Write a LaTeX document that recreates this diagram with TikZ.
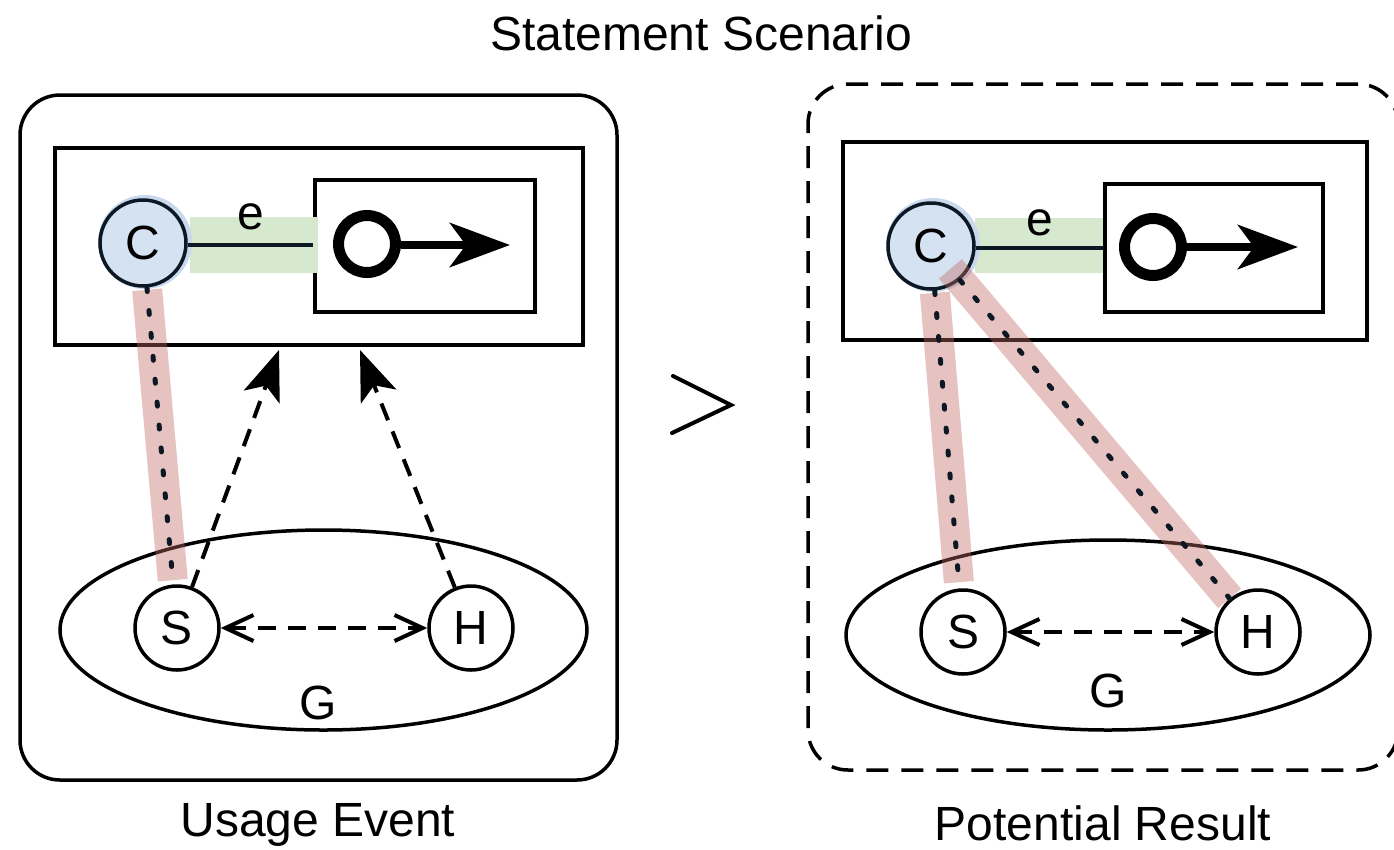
\documentclass[tikz,border=0pt]{standalone}
\usepackage{fontspec}
\setmainfont{Liberation Sans}
\usetikzlibrary{arrows.meta,shapes.geometric}

\definecolor{cfill}{RGB}{213,226,241}
\definecolor{chalo}{RGB}{200,216,237}
\definecolor{cline}{RGB}{12,24,36}
\definecolor{egreen}{RGB}{214,232,206}
\definecolor{linkred}{RGB}{192,105,100}

\begin{document}
\begin{tikzpicture}[x=1pt,y=-1pt,
  font=\fontsize{48}{56}\selectfont,
  panel/.style={draw, line width=3.5pt, rounded corners=40pt, inner sep=0pt},
  framebox/.style={draw, line width=3.5pt, inner sep=0pt},
  cnode/.style={circle, draw=cline, fill=cfill, line width=3.5pt, minimum size=86pt, inner sep=0pt},
  agent/.style={circle, draw, fill=white, line width=3.5pt, minimum size=84pt, inner sep=0pt},
  group/.style={ellipse, draw, line width=3.5pt, inner sep=0pt},
  ring/.style={circle, draw, line width=11pt, minimum size=57pt, inner sep=0pt},
  move/.style={line width=8.5pt, -{Stealth[length=60pt,width=44pt,inset=16pt]}},
  elink/.style={draw=cline, line width=3.5pt},
  band/.style={draw=linkred, draw opacity=0.4, line width=30pt},
  dotlink/.style={draw=cline, line width=5pt, line cap=round, dash pattern=on 4pt off 19pt},
  influence/.style={line width=4pt, dash pattern=on 18pt off 12pt, -{Stealth[length=50pt,width=38pt,inset=12pt]}},
  mutual/.style={line width=4pt, dash pattern=on 18pt off 12pt, {Straight Barb[length=28pt,width=26pt]}-{Straight Barb[length=28pt,width=26pt]}},
  caption/.style={anchor=base, inner sep=0pt}
]
\useasboundingbox (0,0) rectangle (1394,849);

% title
\node[caption] (title) at (701,50) {Statement Scenario};

% ---------- left panel: usage event ----------
\node[panel, minimum width=597pt, minimum height=685pt] (panelL) at (318.5,437.5) {};
\node[framebox, minimum width=528pt, minimum height=197pt] (frameL) at (319,246.5) {};
\node[framebox, minimum width=220pt, minimum height=132pt] (actL) at (425,246) {};
\fill[egreen] (190,217) rectangle (318,273);
\fill[chalo] (145,242) circle[radius=47];
\node[cnode] (C1) at (143,243) {C};
\draw[elink] (C1.east |- 0,245) -- (actL.west |- 0,245);
\node[caption] (e1) at (251,229) {e};
\node[ring] (o1) at (367,244) {};
\coordinate (m1) at (510,245);
\draw[move] (o1.east |- 0,245) -- (m1);

\node[group, minimum width=527pt, minimum height=200pt] (G1) at (323.5,630) {};
\node[caption] (g1) at (318,719) {G};
\node[agent] (S1) at (177,628) {S};
\node[agent] (H1) at (471,628) {H};

\draw[band, shorten <=47pt, shorten >=48pt] (C1.center) -- (S1.center);
\draw[dotlink] (C1) -- (S1);

\coordinate (t1) at (279,350);
\coordinate (t2) at (360,350);
\draw[influence] (S1) -- (t1);
\draw[influence] (H1) -- (t2);
\draw[mutual] (S1) -- (H1);

\node[caption] (capL) at (318,836) {Usage Event};

% comparison sign
\draw[line width=4pt, line cap=round, line join=miter] (673,376) -- (731,405) -- (672,433);

% ---------- right panel: potential result ----------
\node[panel, dash pattern=on 22pt off 13pt, minimum width=590pt, minimum height=686pt] (panelR) at (1103,427) {};
\node[framebox, minimum width=524pt, minimum height=198pt] (frameR) at (1105,241) {};
\node[framebox, minimum width=218pt, minimum height=128pt] (actR) at (1214,248) {};
\fill[egreen] (975,218) rectangle (1103,273);
\fill[chalo] (933,245) circle[radius=47];
\node[cnode] (C2) at (931,246) {C};
\draw[elink] (C2.east |- 0,248) -- (actR.west |- 0,248);
\node[caption] (e2) at (1040,235) {e};
\node[ring] (o2) at (1153,247) {};
\coordinate (m2) at (1298,247);
\draw[move] (o2.east) -- (m2);

\node[group, minimum width=524pt, minimum height=190pt] (G2) at (1108,635) {};
\node[caption] (g2) at (1108,707) {G};
\node[agent] (S2) at (963,632) {S};
\node[agent] (H2) at (1258,632) {H};

\draw[band, shorten <=47pt, shorten >=50pt] (C2.center) -- (S2.center);
\draw[band, shorten <=30pt, shorten >=44pt] (C2.center) -- (H2.center);
\draw[dotlink] (C2) -- (S2);
\draw[dotlink] (C2) -- (H2);
\draw[mutual] (S2) -- (H2);

\node[caption] (capR) at (1103,840) {Potential Result};
\end{tikzpicture}
\end{document}
